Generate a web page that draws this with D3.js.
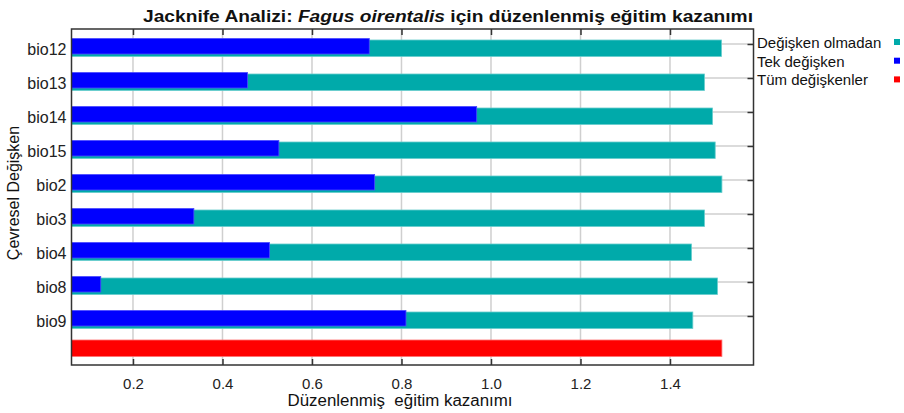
<!DOCTYPE html>
<html>
<head>
<meta charset="utf-8">
<script src="https://cdn.jsdelivr.net/npm/d3@7"></script>
<style>
  body { margin: 0; background: #fff; }
  text { font-family: "Liberation Sans", Arial, sans-serif; }
</style>
</head>
<body>
<div id="chart"></div>
<script>
// data
const variables = ["bio12", "bio13", "bio14", "bio15", "bio2", "bio3", "bio4", "bio8", "bio9"];
const withoutVar = [1.515, 1.477, 1.495, 1.501, 1.516, 1.477, 1.448, 1.506, 1.451];
const onlyVar = [0.728, 0.456, 0.968, 0.526, 0.740, 0.336, 0.505, 0.128, 0.810];
const allVars = 1.516;
const xTicks = [0.2, 0.4, 0.6, 0.8, 1.0, 1.2, 1.4];
const legendLabels = ["Değişken olmadan", "Tek değişken", "Tüm değişkenler"];
const colors = ["#00aaaa", "#0000ff", "#ff0000"];

const width = 904, height = 413;
// plot box edges
const plot = { left: 71.5, right: 753.5, top: 29, bottom: 365 };

const svg = d3.select("#chart")
  .append("svg")
  .attr("width", width)
  .attr("height", height);

const x = d3.scaleLinear().domain([0.0626, 1.5866]).range([plot.left, plot.right]);
// one slot per variable plus the "all" row at the bottom
const y = d3.scalePoint().domain(variables.concat(["all"])).range([44, 350]);

// grid lines
svg.append("g")
  .selectAll("line")
  .data(xTicks)
  .enter()
  .append("line")
  .attr("x1", d => x(d)).attr("x2", d => x(d))
  .attr("y1", plot.top).attr("y2", plot.bottom)
  .attr("stroke", "#cfcfcf")
  .attr("stroke-width", 1.5);

svg.append("g")
  .selectAll("line")
  .data(variables)
  .enter()
  .append("line")
  .attr("x1", plot.left).attr("x2", plot.right)
  .attr("y1", d => y(d)).attr("y2", d => y(d))
  .attr("stroke", "#cfcfcf")
  .attr("stroke-width", 1.5);

// without variable (teal)
svg.append("g")
  .selectAll("rect")
  .data(variables)
  .enter()
  .append("rect")
  .attr("x", plot.left)
  .attr("y", d => y(d) - 4)
  .attr("width", (d, i) => x(withoutVar[i]) - plot.left)
  .attr("height", 16.5)
  .attr("fill", colors[0])
  .attr("stroke", "#66cccc")
  .attr("stroke-width", 0.8);

// with only variable (blue)
svg.append("g")
  .selectAll("rect")
  .data(variables)
  .enter()
  .append("rect")
  .attr("x", plot.left)
  .attr("y", d => y(d) - 5.5)
  .attr("width", (d, i) => x(onlyVar[i]) - plot.left)
  .attr("height", 15.5)
  .attr("fill", colors[1])
  .attr("stroke", "#4a4aff")
  .attr("stroke-width", 0.8);

// with all variables (red)
svg.append("rect")
  .attr("x", plot.left)
  .attr("y", y("all") - 10)
  .attr("width", x(allVars) - plot.left)
  .attr("height", 16.5)
  .attr("fill", colors[2])
  .attr("stroke", "#ff7070")
  .attr("stroke-width", 0.8);

// axes
const axisColor = "#333";

const xAxis = svg.append("g")
  .attr("transform", `translate(0, ${plot.bottom})`)
  .call(d3.axisBottom(x).tickValues(xTicks).tickFormat(d3.format(".1f"))
    .tickSize(-6).tickSizeOuter(0).tickPadding(13));

const xTop = svg.append("g")
  .attr("transform", `translate(0, ${plot.top})`)
  .call(d3.axisTop(x).tickValues(xTicks).tickFormat("")
    .tickSize(-6).tickSizeOuter(0));

const yRight = svg.append("g")
  .attr("transform", `translate(${plot.right}, 0)`)
  .call(d3.axisRight(y).tickValues(variables).tickFormat("")
    .tickSize(-6).tickSizeOuter(0));

const yLeft = svg.append("g")
  .attr("transform", `translate(${plot.left}, 0)`)
  .call(d3.axisLeft(y).tickValues(variables).tickSize(0).tickPadding(5));

[xAxis, xTop, yRight, yLeft].forEach(function (g) {
  g.select(".domain").remove();
  g.selectAll("line").attr("stroke", axisColor).attr("stroke-width", 1.5);
  g.selectAll("text").attr("fill", "#222").style("font-family", '"Liberation Sans", Arial, sans-serif');
});
xAxis.selectAll("text").style("font-size", "15px");
yLeft.selectAll("text").style("font-size", "16px").attr("dy", "0.32em").attr("y", 5);

// frame
svg.append("rect")
  .attr("x", plot.left).attr("y", plot.top)
  .attr("width", plot.right - plot.left).attr("height", plot.bottom - plot.top)
  .attr("fill", "none")
  .attr("stroke", axisColor)
  .attr("stroke-width", 1.5);

// title (reference text is a bit wider than the font, so stretch it)
const title = svg.append("text")
  .attr("x", 448)
  .attr("y", 22)
  .attr("text-anchor", "middle")
  .attr("textLength", 610)
  .attr("lengthAdjust", "spacingAndGlyphs")
  .style("font-size", "16px")
  .style("font-weight", "bold")
  .attr("fill", "#111");
title.append("tspan").text("Jacknife Analizi: ");
title.append("tspan").style("font-style", "italic").text("Fagus oirentalis");
title.append("tspan").text(" için düzenlenmiş eğitim kazanımı");

// axis titles
svg.append("text")
  .attr("x", 400)
  .attr("y", 406)
  .attr("text-anchor", "middle")
  .attr("textLength", 225)
  .attr("lengthAdjust", "spacingAndGlyphs")
  .style("font-size", "16px")
  .attr("fill", "#111")
  .style("white-space", "pre")
  .text("Düzenlenmiş  eğitim kazanımı");

svg.append("text")
  .attr("transform", "translate(19, 193) rotate(-90)")
  .attr("text-anchor", "middle")
  .style("font-size", "16px")
  .attr("fill", "#111")
  .text("Çevresel Değişken");

// legend
const legend = svg.append("g")
  .selectAll("g")
  .data(legendLabels)
  .enter()
  .append("g")
  .attr("transform", (d, i) => `translate(757, ${48 + i * 18.7})`);

legend.append("text")
  .style("font-size", "15px")
  .attr("fill", "#111")
  .text(d => d);

legend.append("rect")
  .attr("x", 137)
  .attr("y", -9)
  .attr("width", 6)
  .attr("height", 6)
  .attr("fill", (d, i) => colors[i]);
</script>
</body>
</html>
